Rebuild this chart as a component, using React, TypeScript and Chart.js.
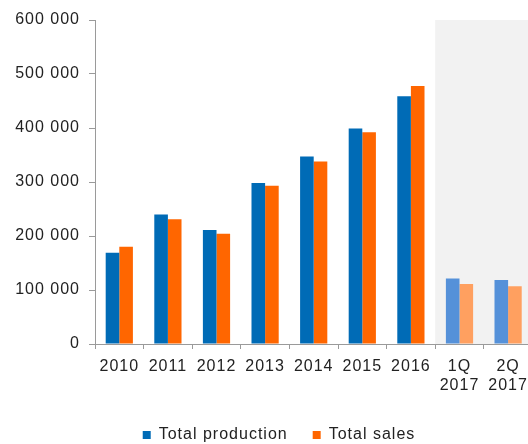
import React, { useEffect, useRef } from "react";
import { Chart, registerables } from "chart.js";

Chart.register(...registerables);

const categories: (string | string[])[] = ["2010", "2011", "2012", "2013", "2014", "2015", "2016", ["1Q", "2017"], ["2Q", "2017"]];
const totalProduction = [169000, 240000, 211000, 298000, 347000, 399000, 459000, 121500, 118500];
const totalSales = [180000, 231000, 204000, 293000, 338000, 392000, 478000, 111000, 107000];
const yTicks = [0, 100000, 200000, 300000, 400000, 500000, 600000];

const BLUE = "#006BB6";
const BLUE_LIGHT = "#5591D9";
const ORANGE = "#FF6600";
const ORANGE_LIGHT = "#FFA060";
const AXIS = "#9a9a9a";
const TEXT = "#222222";
const FONT = { family: "Arial, 'Liberation Sans', sans-serif", size: 16 };

const fmt = (v: number) => String(v).replace(/\B(?=(\d{3})+(?!\d))/g, " ");

const spacingPlugin = {
  id: "spacing",
  beforeUpdate(chart: any) {
    (chart.ctx as any).letterSpacing = "1px";
  },
  beforeDraw(chart: any) {
    (chart.ctx as any).letterSpacing = "1px";
  },
};

const legendShiftPlugin = {
  id: "legendShift",
  afterLayout(chart: any) {
    if (chart.legend) {
      chart.legend.left += 7.5;
      chart.legend.right += 7.5;
    }
  },
};

const shadePlugin = {
  id: "shade",
  beforeDatasetsDraw(chart: any) {
    const x = chart.scales.x;
    const { top, bottom } = chart.chartArea;
    const start = (x.getPixelForValue(6) + x.getPixelForValue(7)) / 2;
    const ctx = chart.ctx;
    ctx.save();
    ctx.fillStyle = "#F2F2F2";
    ctx.fillRect(start, top, chart.width - start, bottom - top);
    ctx.restore();
  },
};

export default function App() {
  const ref = useRef<HTMLCanvasElement | null>(null);
  useEffect(() => {
    document.documentElement.style.overflow = "hidden";
    document.body.style.overflow = "hidden";
    const n = categories.length;
    const chart = new Chart(ref.current as HTMLCanvasElement, {
      type: "bar",
      data: {
        labels: categories,
        datasets: [
          {
            label: "Total production",
            data: totalProduction,
            backgroundColor: totalProduction.map((_, i) => (i >= n - 2 ? BLUE_LIGHT : BLUE)),
          },
          {
            label: "Total sales",
            data: totalSales,
            backgroundColor: totalSales.map((_, i) => (i >= n - 2 ? ORANGE_LIGHT : ORANGE)),
          },
        ],
      },
      options: {
        animation: false,
        responsive: false,
        maintainAspectRatio: false,
        devicePixelRatio: 1,
        layout: { padding: { top: 20, left: 10.6, right: 12.6, bottom: 3 } },
        datasets: { bar: { categoryPercentage: 0.56, barPercentage: 1 } },
        plugins: {
          legend: {
            position: "bottom",
            labels: {
              boxWidth: 8,
              boxHeight: 8,
              padding: 25,
              color: TEXT,
              font: FONT,
            },
          },
          tooltip: { enabled: false },
        },
        scales: {
          x: {
            grid: { display: true, drawOnChartArea: false, drawTicks: true, tickLength: 5, color: AXIS, offset: true },
            border: { display: true, color: AXIS },
            ticks: { color: TEXT, font: FONT, padding: 8, maxRotation: 0, autoSkip: false },
            afterFit(scale: any) {
              scale.height = 58;
            },
          },
          y: {
            min: 0,
            max: 600000,
            afterBuildTicks(scale: any) {
              scale.ticks = yTicks.map((v) => ({ value: v }));
            },
            grid: { display: true, drawOnChartArea: false, drawTicks: true, tickLength: 6, color: AXIS },
            border: { display: true, color: AXIS },
            ticks: { color: TEXT, font: FONT, padding: 9, callback: (v: any) => fmt(Number(v)) },
            afterFit(scale: any) {
              scale.width = 84.4;
            },
          },
        },
      },
      plugins: [spacingPlugin, legendShiftPlugin, shadePlugin],
    } as any);
    return () => chart.destroy();
  }, []);
  return (
    <div style={{ position: "fixed", left: 0, top: 0, width: 545, height: 456 }}>
      <canvas ref={ref} width={545} height={456} style={{ width: 545, height: 456, display: "block" }} />
    </div>
  );
}
